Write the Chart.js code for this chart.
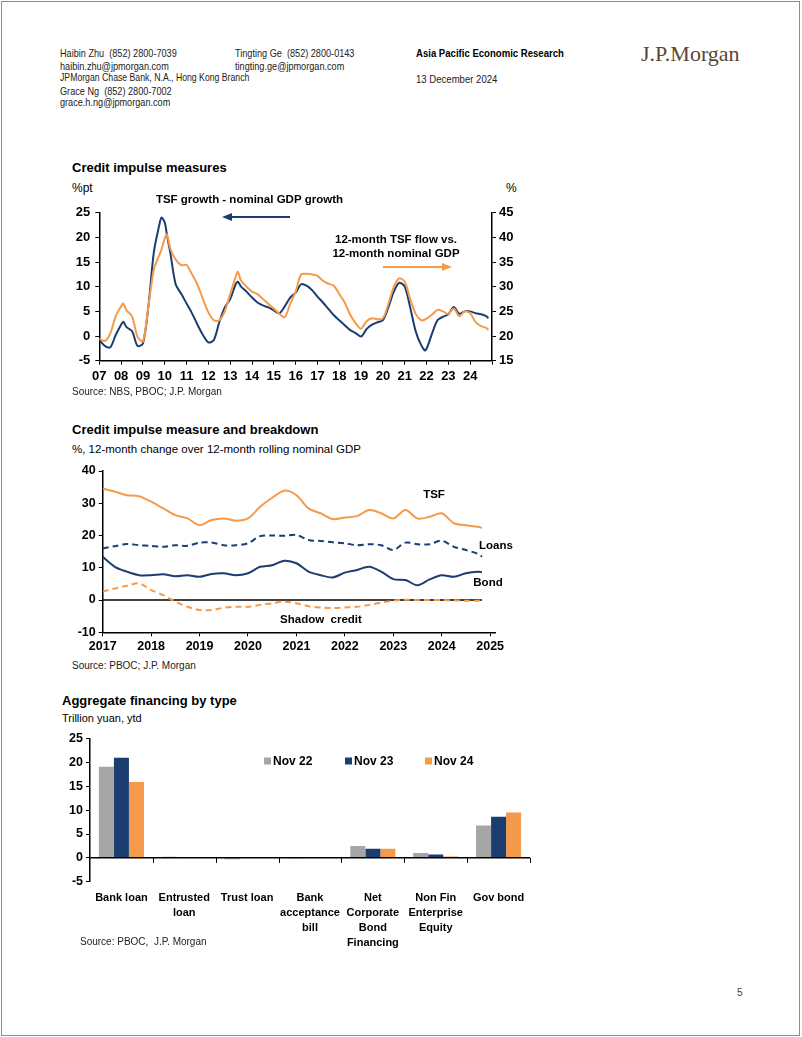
<!DOCTYPE html>
<html><head><meta charset="utf-8">
<script src="https://cdn.jsdelivr.net/npm/chart.js@4.4.1/dist/chart.umd.min.js"></script>
<style>
html,body{margin:0;padding:0;background:#fff;}
#page{position:relative;width:802px;height:1037px;overflow:hidden;font-family:"Liberation Sans",Arial,sans-serif;color:#000;}
#border{position:absolute;left:1px;top:1px;width:797px;height:1033px;border:1px solid #8c8c8c;}
.t{position:absolute;white-space:nowrap;line-height:1;}
.hd{font-family:"Liberation Sans",Arial,sans-serif;font-size:11px;color:#222;transform:scaleX(0.83);transform-origin:0 0;}
.ttl{font-weight:bold;font-size:13px;}
.src{font-size:10px;color:#222;}
canvas{position:absolute;}
</style></head>
<body><div id="page">
<div id="border"></div>
<div class="t hd" style="left:60px;top:48px;">Haibin Zhu&nbsp; (852) 2800-7039</div>
<div class="t hd" style="left:60px;top:61px;">haibin.zhu@jpmorgan.com</div>
<div class="t hd" style="left:60px;top:72px;transform:scaleX(0.79);">JPMorgan Chase Bank, N.A., Hong Kong Branch</div>
<div class="t hd" style="left:60px;top:86px;">Grace Ng&nbsp; (852) 2800-7002</div>
<div class="t hd" style="left:60px;top:97px;">grace.h.ng@jpmorgan.com</div>
<div class="t hd" style="left:235px;top:48px;">Tingting Ge&nbsp; (852) 2800-0143</div>
<div class="t hd" style="left:235px;top:61px;">tingting.ge@jpmorgan.com</div>
<div class="t hd" style="left:416px;top:48px;font-weight:bold;color:#000;transform:scaleX(0.87);">Asia Pacific Economic Research</div>
<div class="t hd" style="left:416px;top:74px;transform:scaleX(0.87);">13 December 2024</div>
<div class="t" style="left:641px;top:43px;font-family:'Liberation Serif',serif;font-size:22px;color:#5a4636;">J.P.Morgan</div>

<div class="t ttl" style="left:72px;top:161px;">Credit impulse measures</div>
<div class="t" style="left:72px;top:182px;font-size:12px;">%pt</div>
<div class="t" style="left:506px;top:182px;font-size:12px;">%</div>
<canvas id="c1" width="480" height="205" style="left:40px;top:190px;"></canvas>
<div class="t src" style="left:72px;top:387px;">Source: NBS, PBOC; J.P. Morgan</div>

<div class="t ttl" style="left:72px;top:423px;">Credit impulse measure and breakdown</div>
<div class="t" style="left:72px;top:444px;font-size:11.5px;">%, 12-month change over 12-month rolling nominal GDP</div>
<canvas id="c2" width="480" height="205" style="left:40px;top:455px;"></canvas>
<div class="t src" style="left:72px;top:661px;">Source: PBOC; J.P. Morgan</div>

<div class="t ttl" style="left:62px;top:694px;">Aggregate financing by type</div>
<div class="t" style="left:62px;top:713px;font-size:11px;">Trillion yuan, ytd</div>
<canvas id="c3" width="510" height="240" style="left:40px;top:725px;"></canvas>
<div class="t src" style="left:80px;top:937px;font-size:10px;">Source: PBOC,&nbsp; J.P. Morgan</div>

<div class="t" style="left:737px;top:988px;font-size:10px;color:#444;">5</div>
</div>
<script>
// ---------- Chart 1 data ----------
const c1Dates = [2007.0,2007.25,2007.5,2007.75,
 2008.0,2008.1,2008.25,2008.5,2008.75,
 2009.0,2009.25,2009.5,2009.75,2009.85,
 2010.0,2010.1,2010.25,2010.5,2010.75,
 2011.0,2011.25,2011.5,2011.75,
 2012.0,2012.25,2012.5,2012.75,
 2013.0,2013.25,2013.35,2013.5,2013.75,
 2014.0,2014.25,2014.5,2014.75,
 2015.0,2015.25,2015.5,2015.75,
 2016.0,2016.25,2016.5,2016.75,
 2017.0,2017.25,2017.5,2017.75,
 2018.0,2018.25,2018.5,2018.75,
 2019.0,2019.25,2019.5,2019.75,
 2020.0,2020.25,2020.5,2020.75,
 2021.0,2021.25,2021.5,2021.75,2021.95,
 2022.25,2022.5,2022.75,
 2023.0,2023.25,2023.5,2023.75,
 2024.0,2024.25,2024.5,2024.75,2024.83];
// TSF growth - nominal GDP growth (%pt, left axis)
const c1TsfMinusGdp = [-0.8,-2.0,-2.3,0.2,
 2.3,2.9,1.8,1.0,-2.0,
 -1.5,6.0,17.0,22.5,24.0,
 23.0,20.5,17.0,10.5,8.6,
 6.6,4.6,2.3,0.2,
 -1.3,-0.8,2.8,5.8,
 7.5,10.5,11.0,10.0,9.0,
 7.8,6.8,6.2,5.8,
 5.2,4.6,6.0,7.8,
 8.8,10.5,10.2,9.3,
 8.0,6.8,5.5,4.2,
 3.2,2.2,1.2,0.6,
 -0.1,1.4,2.3,2.8,
 3.2,5.8,9.0,10.8,
 10.0,5.8,1.0,-1.8,-2.9,
 0.5,3.2,3.9,
 4.4,5.9,4.5,5.0,
 5.0,4.6,4.4,4.0,3.6];
// 12-month TSF flow vs 12-month nominal GDP (%, right axis)
const c1FlowToGdp = [19.5,19.0,20.5,24.0,
 26.0,26.6,25.2,24.0,19.9,
 18.9,26.0,33.5,36.4,37.5,
 39.8,40.6,37.8,35.5,34.4,
 34.4,32.5,30.4,27.5,
 24.8,23.2,23.2,25.0,
 28.5,32.0,33.0,31.2,30.0,
 29.0,28.5,27.5,26.5,
 25.6,24.5,23.8,26.5,
 29.0,32.5,32.6,32.5,
 32.2,31.2,30.6,30.2,
 28.5,26.8,24.3,22.6,
 21.5,23.0,23.6,23.4,
 23.6,26.5,30.0,31.7,
 31.0,27.5,24.5,23.2,23.4,
 24.3,25.3,25.0,
 24.5,25.6,24.0,25.0,
 24.6,22.8,22.0,21.6,21.2];
const c1YearTicks = [2007,2008,2009,2010,2011,2012,2013,2014,2015,2016,2017,2018,2019,2020,2021,2022,2023,2024,2025];
const c1YearLabels = ['07','08','09','10','11','12','13','14','15','16','17','18','19','20','21','22','23','24',''];

// ---------- Chart 2 data ----------
const c2Dates = [2017.0,2017.25,2017.5,2017.75,2018.0,2018.25,2018.5,2018.75,
 2019.0,2019.25,2019.5,2019.75,2020.0,2020.25,2020.5,2020.75,
 2021.0,2021.25,2021.5,2021.75,2022.0,2022.25,2022.5,2022.75,
 2023.0,2023.25,2023.5,2023.75,2024.0,2024.25,2024.5,2024.75,2024.83];
const c2Tsf = [34.6,33.6,32.5,32.2,30.5,28.4,26.3,25.3,23.2,24.8,25.3,24.6,25.3,28.9,31.7,33.9,
 32.5,28.4,26.9,25.1,25.6,26.0,27.9,26.9,25.3,27.9,25.3,25.8,26.9,23.8,23.2,22.7,22.4];
const c2Loans = [16.0,16.7,17.4,17.0,16.8,16.5,17.0,16.8,17.8,17.8,17.0,17.0,17.6,19.8,20.0,19.9,
 20.2,18.6,18.3,17.9,17.6,17.0,17.3,17.0,15.5,17.8,17.3,17.3,18.4,16.5,15.5,14.3,13.4];
const c2Bond = [13.4,10.3,8.8,7.7,7.7,8.0,7.4,7.7,7.2,8.1,8.3,7.7,8.3,10.3,10.8,12.2,
 11.4,8.8,7.7,7.0,8.5,9.3,10.3,8.8,6.5,6.2,4.6,6.4,7.7,7.2,8.3,8.8,8.6];
const c2Shadow = [2.6,3.6,4.4,5.2,3.1,1.5,-0.5,-2.1,-3.1,-3.1,-2.4,-2.1,-2.1,-1.5,-1.0,-0.5,
 -1.0,-1.9,-2.3,-2.5,-2.3,-2.1,-1.5,-0.8,-0.2,0.1,0.0,0.0,0.0,-0.1,-0.2,-0.2,-0.1];
const c2YearTicks = [2017,2018,2019,2020,2021,2022,2023,2024,2025];

// ---------- Chart 3 data ----------
const c3Categories = [['Bank loan'],['Entrusted','loan'],['Trust loan'],['Bank','acceptance','bill'],['Net','Corporate','Bond','Financing'],['Non Fin','Enterprise','Equity'],['Gov bond']];
const c3SeriesNames = ['Nov 22','Nov 23','Nov 24'];
const c3Nov22 = [19.1,0.25,-0.3,-0.15,2.5,1.0,6.8];
const c3Nov23 = [21.0,0.05,0.0,0.0,1.9,0.7,8.6];
const c3Nov24 = [15.9,0.0,0.2,0.0,1.9,0.3,9.5];

// ---------- styling ----------
const NAVY='#1C3D70', ORANGE='#F59A4B', GRAY='#A6A6A6';
Chart.defaults.font.family='"Liberation Sans", Arial, sans-serif';
Chart.defaults.color='#000';
Chart.defaults.animation=false;
Chart.defaults.plugins.legend.display=false;
Chart.defaults.plugins.tooltip.enabled=false;

function xy(d,v){return d.map((x,i)=>({x:x,y:v[i]}));}
function arrow(ctx,x1,y1,x2,y2,color){
  ctx.save();ctx.strokeStyle=color;ctx.fillStyle=color;ctx.lineWidth=2;
  const dir=Math.sign(x2-x1);
  ctx.beginPath();ctx.moveTo(x1,y1);ctx.lineTo(x2-dir*8,y2);ctx.stroke();
  ctx.beginPath();ctx.moveTo(x2,y2);ctx.lineTo(x2-dir*10,y2-4);ctx.lineTo(x2-dir*10,y2+4);ctx.closePath();ctx.fill();
  ctx.restore();
}
function txt(ctx,s,x,y,size){ctx.save();ctx.font='bold '+size+'px "Liberation Sans", Arial, sans-serif';ctx.fillStyle='#000';ctx.textAlign='center';ctx.textBaseline='middle';ctx.fillText(s,x,y);ctx.restore();}

const axisGrid={display:true,drawOnChartArea:false,drawTicks:true,tickLength:4,color:'#000',lineWidth:1};
const axisBorder={display:true,color:'#000',width:1.5};

// ---------- Chart 1 ----------
new Chart(document.getElementById('c1'),{
  type:'line',
  data:{datasets:[
    {label:'TSF growth - nominal GDP growth',data:xy(c1Dates,c1TsfMinusGdp),yAxisID:'y',borderColor:NAVY,borderWidth:2,pointRadius:0,tension:0.3,order:1},
    {label:'12-month TSF flow vs. 12-month nominal GDP',data:xy(c1Dates,c1FlowToGdp),yAxisID:'y2',borderColor:ORANGE,borderWidth:2,pointRadius:0,tension:0.3,order:0}
  ]},
  options:{responsive:false,devicePixelRatio:1,
    layout:{padding:{top:22.7,left:0,right:0,bottom:0}},
    scales:{
      x:{type:'linear',min:2007,max:2025,
        afterBuildTicks:s=>{s.ticks=c1YearTicks.map(v=>({value:v}));},
        afterFit:s=>{s.height=34.3;},
        ticks:{autoSkip:false,maxRotation:0,padding:4,font:{size:13,weight:'bold'},callback:(v)=>c1YearLabels[c1YearTicks.indexOf(v)]},
        grid:axisGrid,border:axisBorder},
      y:{position:'left',min:-5,max:25,
        afterFit:s=>{s.width=59.3;},
        ticks:{stepSize:5,padding:5,font:{size:13,weight:'bold'}},
        grid:axisGrid,border:axisBorder},
      y2:{position:'right',min:15,max:45,
        afterFit:s=>{s.width=28;},
        ticks:{stepSize:5,padding:3,font:{size:13,weight:'bold'}},
        grid:axisGrid,border:axisBorder}
    }},
  plugins:[{id:'ann1',afterDraw(ch){const c=ch.ctx;
    txt(c,'TSF growth - nominal GDP growth',209.5,9.5,11.5);
    arrow(c,250,27,182,27,NAVY);
    txt(c,'12-month TSF flow vs.',356,50,11.5);
    txt(c,'12-month nominal GDP',356,63.5,11.5);
    arrow(c,343,77,412,77,ORANGE);
  }}]
});

// ---------- Chart 2 ----------
new Chart(document.getElementById('c2'),{
  type:'line',
  data:{datasets:[
    {label:'TSF',data:xy(c2Dates,c2Tsf),borderColor:ORANGE,borderWidth:2,pointRadius:0,tension:0.3},
    {label:'Loans',data:xy(c2Dates,c2Loans),borderColor:NAVY,borderWidth:2,borderDash:[6,4],pointRadius:0,tension:0.3},
    {label:'Bond',data:xy(c2Dates,c2Bond),borderColor:NAVY,borderWidth:2,pointRadius:0,tension:0.3},
    {label:'Shadow credit',data:xy(c2Dates,c2Shadow),borderColor:ORANGE,borderWidth:2,borderDash:[6,4],pointRadius:0,tension:0.3}
  ]},
  options:{responsive:false,devicePixelRatio:1,
    layout:{padding:{top:16,left:0,right:25,bottom:0}},
    scales:{
      x:{type:'linear',min:2017,max:2025.1,
        afterBuildTicks:s=>{s.ticks=c2YearTicks.map(v=>({value:v}));},
        afterFit:s=>{s.height=27.7;},
        ticks:{autoSkip:false,maxRotation:0,padding:3,font:{size:12.5,weight:'bold'},callback:v=>String(v)},
        grid:axisGrid,border:axisBorder},
      y:{min:-10,max:40,
        afterFit:s=>{s.width=62.7;},
        ticks:{stepSize:10,padding:3,font:{size:12.5,weight:'bold'}},
        grid:axisGrid,border:axisBorder}
    }},
  plugins:[{id:'zero2',beforeDatasetsDraw(ch){const c=ch.ctx,x=ch.scales.x,y=ch.scales.y;
      const y0=y.getPixelForValue(0);
      c.save();c.strokeStyle='#000';c.lineWidth=1.5;c.beginPath();
      c.moveTo(ch.chartArea.left,y0);c.lineTo(x.getPixelForValue(c2Dates[c2Dates.length-1]),y0);c.stroke();c.restore();},
    afterDraw(ch){const c=ch.ctx;
      txt(c,'TSF',394,40,11.5);
      txt(c,'Loans',456,91,11.5);
      txt(c,'Bond',448,128,11.5);
      txt(c,'Shadow  credit',281,165,11.5);
    }}]
});

// ---------- Chart 3 ----------
new Chart(document.getElementById('c3'),{
  type:'bar',
  data:{labels:c3Categories,datasets:[
    {label:c3SeriesNames[0],data:c3Nov22,backgroundColor:GRAY},
    {label:c3SeriesNames[1],data:c3Nov23,backgroundColor:NAVY},
    {label:c3SeriesNames[2],data:c3Nov24,backgroundColor:ORANGE}
  ]},
  options:{responsive:false,devicePixelRatio:1,
    datasets:{bar:{barPercentage:1,categoryPercentage:0.717}},
    layout:{padding:{top:13.7,left:0,right:20,bottom:0}},
    scales:{
      x:{afterFit:s=>{s.height=83.3;},
        ticks:{autoSkip:false,maxRotation:0,padding:9,font:{size:11,weight:'bold',lineHeight:1.36}},
        grid:{display:false,drawTicks:false},border:{display:false}},
      y:{min:-5,max:25,
        afterFit:s=>{s.width=50;},
        ticks:{stepSize:5,padding:3,font:{size:12.5,weight:'bold'}},
        grid:axisGrid,border:axisBorder}
    }},
  plugins:[{id:'zero3',afterDatasetsDraw(ch){const c=ch.ctx,x=ch.scales.x,y=ch.scales.y,a=ch.chartArea;
      const y0=y.getPixelForValue(0);const n=c3Categories.length;const w=(a.right-a.left)/n;
      c.save();c.strokeStyle='#000';c.lineWidth=1.5;c.beginPath();c.moveTo(a.left,y0);c.lineTo(a.right,y0);c.stroke();
      c.lineWidth=1;c.beginPath();
      for(let i=1;i<=n;i++){const px=Math.round(a.left+i*w)+0.5;c.moveTo(px,y0);c.lineTo(px,y0+5);}
      c.stroke();c.restore();},
    afterDraw(ch){const c=ch.ctx;const xs=[224,305,385];
      ch.data.datasets.forEach((d,i)=>{
        c.save();c.fillStyle=d.backgroundColor;c.fillRect(xs[i],32.5,7,7);
        c.fillStyle='#000';c.font='bold 12px "Liberation Sans", Arial, sans-serif';c.textBaseline='middle';c.textAlign='left';
        c.fillText(d.label,xs[i]+9,36.5);c.restore();});
    }}]
});
</script>
</body></html>
